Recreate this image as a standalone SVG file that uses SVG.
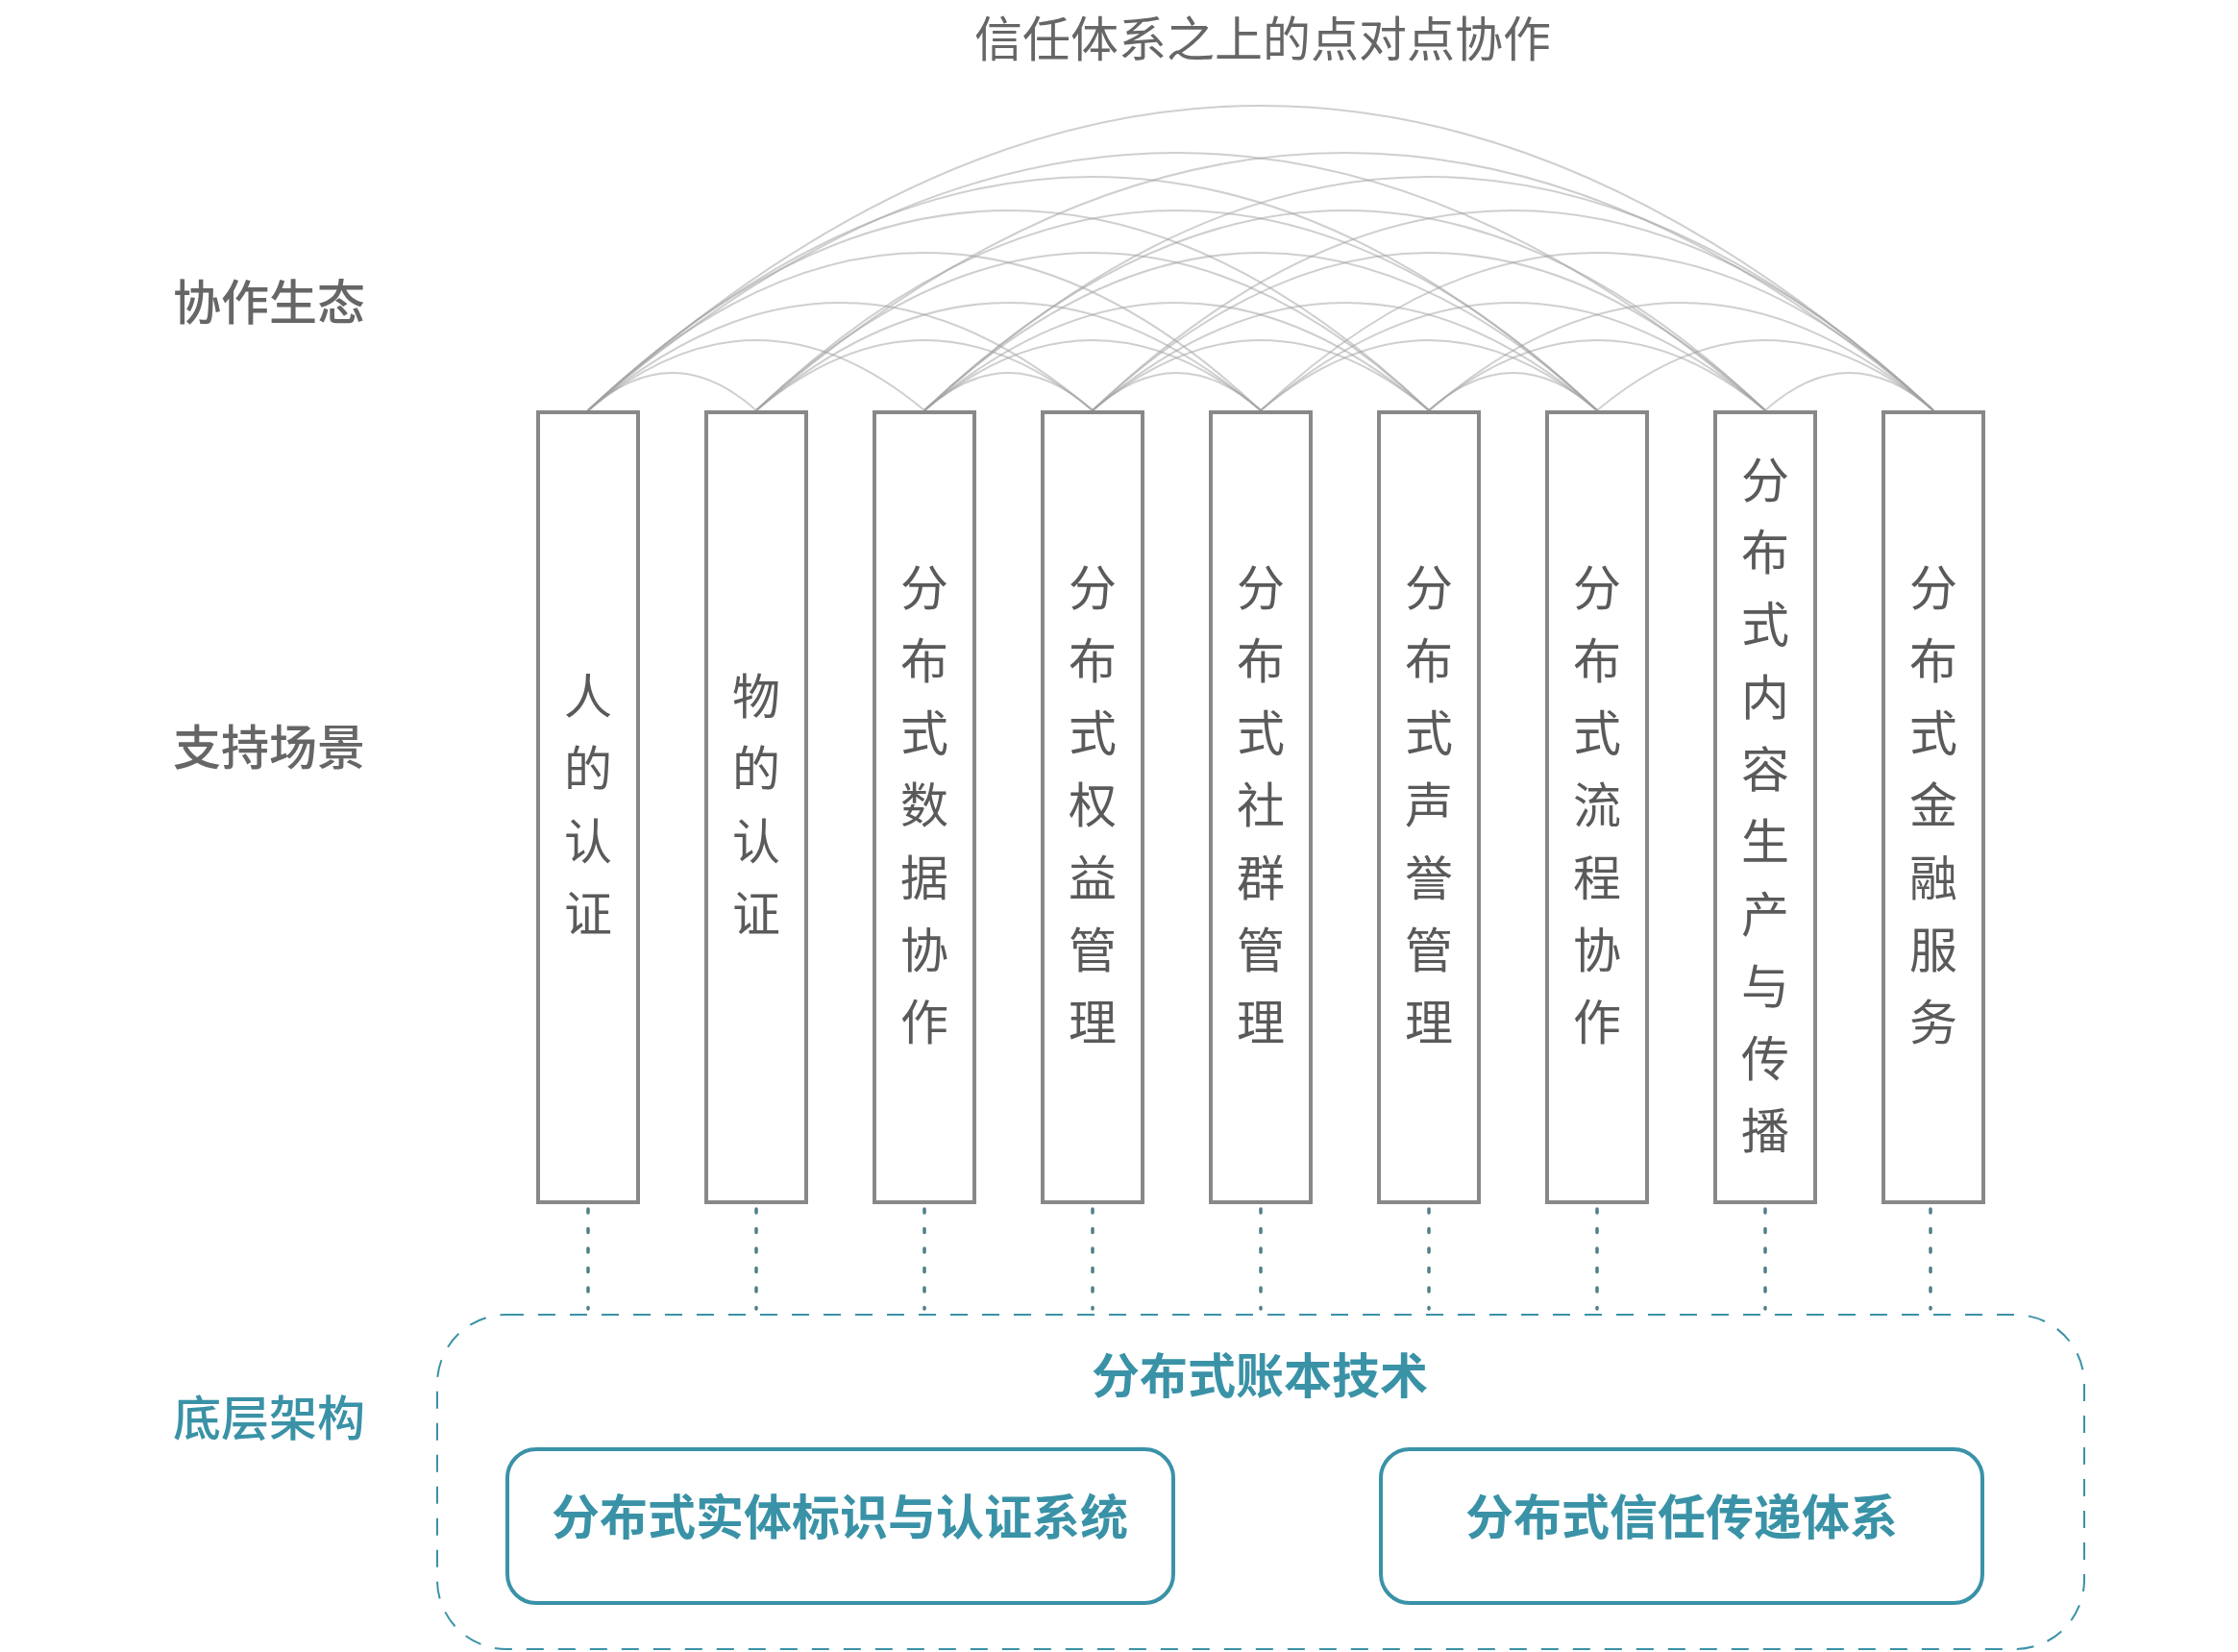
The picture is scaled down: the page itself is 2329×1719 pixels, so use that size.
<svg xmlns="http://www.w3.org/2000/svg" width="2329" height="1719" viewBox="0 0 2329 1719">
<style>
text{font-family:"Noto Sans CJK SC","Noto Sans",sans-serif}
.title{font-size:50px;fill:#666;font-weight:400}
.lab{font-size:50px;fill:#666;font-weight:500}
.labt{font-size:50px;fill:#3a92a7;font-weight:500}
.teal{font-size:50px;fill:#3a92a7;font-weight:700}
.bt{font-size:50px;fill:#5a5a5a;font-weight:400;text-anchor:middle}
.box{fill:#fff;stroke:#888;stroke-width:4}
.arc{fill:none;stroke:#a0a0a0;stroke-opacity:0.5;stroke-width:2}
.dot{stroke:#4f7f87;stroke-width:3.5;stroke-dasharray:4 16.5;stroke-linecap:round}
.inner{fill:#fff;stroke:#3a92a7;stroke-width:4}
</style>
<rect width="2329" height="1719" fill="#fff"/>
<text class="title" x="1314" y="59" text-anchor="middle">信任体系之上的点对点协作</text>
<g id="labels">
<text class="lab" x="180" y="333">协作生态</text>
<text class="lab" x="180" y="796">支持场景</text>
<text class="labt" x="180" y="1494">底层架构</text>
</g>
<g id="connectors">
<g id="arcs">
<path class="arc" d="M612 427Q699.5 349 787 427"/>
<path class="arc" d="M962 427Q1049.5 349 1137 427"/>
<path class="arc" d="M1137 427Q1224.5 349 1312 427"/>
<path class="arc" d="M1487 427Q1574.5 349 1662 427"/>
<path class="arc" d="M1837 427Q1924.5 349 2012 427"/>
<path class="arc" d="M612 427Q787 281 962 427"/>
<path class="arc" d="M787 427Q962 281 1137 427"/>
<path class="arc" d="M962 427Q1137 281 1312 427"/>
<path class="arc" d="M1137 427Q1312 281 1487 427"/>
<path class="arc" d="M1312 427Q1487 281 1662 427"/>
<path class="arc" d="M1487 427Q1662 281 1837 427"/>
<path class="arc" d="M1662 427Q1837 281 2012 427"/>
<path class="arc" d="M612 427Q874.5 203 1137 427"/>
<path class="arc" d="M787 427Q1049.5 203 1312 427"/>
<path class="arc" d="M962 427Q1224.5 203 1487 427"/>
<path class="arc" d="M1137 427Q1399.5 203 1662 427"/>
<path class="arc" d="M1312 427Q1574.5 203 1837 427"/>
<path class="arc" d="M1487 427Q1749.5 203 2012 427"/>
<path class="arc" d="M612 427Q962 99 1312 427"/>
<path class="arc" d="M787 427Q1137 99 1487 427"/>
<path class="arc" d="M962 427Q1312 99 1662 427"/>
<path class="arc" d="M1137 427Q1487 99 1837 427"/>
<path class="arc" d="M1312 427Q1662 99 2012 427"/>
<path class="arc" d="M612 427Q1049.5 11 1487 427"/>
<path class="arc" d="M787 427Q1224.5 11 1662 427"/>
<path class="arc" d="M962 427Q1399.5 11 1837 427"/>
<path class="arc" d="M1137 427Q1574.5 11 2012 427"/>
<path class="arc" d="M612 427Q1137 -59 1662 427"/>
<path class="arc" d="M962 427Q1487 -59 2012 427"/>
<path class="arc" d="M612 427Q1224.5 -109 1837 427"/>
<path class="arc" d="M787 427Q1399.5 -109 2012 427"/>
<path class="arc" d="M612 427Q1312 -207 2012 427"/>
</g>
<g id="dotted">
<line class="dot" x1="612" y1="1258" x2="612" y2="1362"/>
<line class="dot" x1="787" y1="1258" x2="787" y2="1362"/>
<line class="dot" x1="962" y1="1258" x2="962" y2="1362"/>
<line class="dot" x1="1137" y1="1258" x2="1137" y2="1362"/>
<line class="dot" x1="1312" y1="1258" x2="1312" y2="1362"/>
<line class="dot" x1="1487" y1="1258" x2="1487" y2="1362"/>
<line class="dot" x1="1662" y1="1258" x2="1662" y2="1362"/>
<line class="dot" x1="1837" y1="1258" x2="1837" y2="1362"/>
<line class="dot" x1="2009" y1="1258" x2="2009" y2="1362"/>
</g>
</g>
<g id="n1"><rect class="box" x="560" y="429" width="104" height="822"/>
<text class="bt" x="612"><tspan x="612" y="743">人</tspan><tspan x="612" y="818">的</tspan><tspan x="612" y="894">认</tspan><tspan x="612" y="969">证</tspan></text></g>
<g id="n2"><rect class="box" x="735" y="429" width="104" height="822"/>
<text class="bt" x="787"><tspan x="787" y="743">物</tspan><tspan x="787" y="818">的</tspan><tspan x="787" y="894">认</tspan><tspan x="787" y="969">证</tspan></text></g>
<g id="n3"><rect class="box" x="910" y="429" width="104" height="822"/>
<text class="bt" x="962"><tspan x="962" y="630">分</tspan><tspan x="962" y="706">布</tspan><tspan x="962" y="781">式</tspan><tspan x="962" y="856">数</tspan><tspan x="962" y="932">据</tspan><tspan x="962" y="1007">协</tspan><tspan x="962" y="1082">作</tspan></text></g>
<g id="n4"><rect class="box" x="1085" y="429" width="104" height="822"/>
<text class="bt" x="1137"><tspan x="1137" y="630">分</tspan><tspan x="1137" y="706">布</tspan><tspan x="1137" y="781">式</tspan><tspan x="1137" y="856">权</tspan><tspan x="1137" y="932">益</tspan><tspan x="1137" y="1007">管</tspan><tspan x="1137" y="1082">理</tspan></text></g>
<g id="n5"><rect class="box" x="1260" y="429" width="104" height="822"/>
<text class="bt" x="1312"><tspan x="1312" y="630">分</tspan><tspan x="1312" y="706">布</tspan><tspan x="1312" y="781">式</tspan><tspan x="1312" y="856">社</tspan><tspan x="1312" y="932">群</tspan><tspan x="1312" y="1007">管</tspan><tspan x="1312" y="1082">理</tspan></text></g>
<g id="n6"><rect class="box" x="1435" y="429" width="104" height="822"/>
<text class="bt" x="1487"><tspan x="1487" y="630">分</tspan><tspan x="1487" y="706">布</tspan><tspan x="1487" y="781">式</tspan><tspan x="1487" y="856">声</tspan><tspan x="1487" y="932">誉</tspan><tspan x="1487" y="1007">管</tspan><tspan x="1487" y="1082">理</tspan></text></g>
<g id="n7"><rect class="box" x="1610" y="429" width="104" height="822"/>
<text class="bt" x="1662"><tspan x="1662" y="630">分</tspan><tspan x="1662" y="706">布</tspan><tspan x="1662" y="781">式</tspan><tspan x="1662" y="856">流</tspan><tspan x="1662" y="932">程</tspan><tspan x="1662" y="1007">协</tspan><tspan x="1662" y="1082">作</tspan></text></g>
<g id="n8"><rect class="box" x="1785" y="429" width="104" height="822"/>
<text class="bt" x="1837"><tspan x="1837" y="518">分</tspan><tspan x="1837" y="593">布</tspan><tspan x="1837" y="668">式</tspan><tspan x="1837" y="744">内</tspan><tspan x="1837" y="819">容</tspan><tspan x="1837" y="894">生</tspan><tspan x="1837" y="970">产</tspan><tspan x="1837" y="1045">与</tspan><tspan x="1837" y="1120">传</tspan><tspan x="1837" y="1195">播</tspan></text></g>
<g id="n9"><rect class="box" x="1960" y="429" width="104" height="822"/>
<text class="bt" x="2012"><tspan x="2012" y="630">分</tspan><tspan x="2012" y="706">布</tspan><tspan x="2012" y="781">式</tspan><tspan x="2012" y="856">金</tspan><tspan x="2012" y="932">融</tspan><tspan x="2012" y="1007">服</tspan><tspan x="2012" y="1082">务</tspan></text></g>
<g id="ledger">
<rect x="455" y="1368" width="1714" height="348" rx="72" fill="none" stroke="#3a92a7" stroke-width="2" stroke-dasharray="18 15"/>
<text class="teal" x="1311" y="1450" text-anchor="middle">分布式账本技术</text>
</g>
<g id="identity">
<rect class="inner" x="528" y="1508" width="693" height="160" rx="30"/>
<text class="teal" x="874" y="1597" text-anchor="middle">分布式实体标识与认证系统</text>
</g>
<g id="trust">
<rect class="inner" x="1437" y="1508" width="626" height="160" rx="30"/>
<text class="teal" x="1750" y="1597" text-anchor="middle">分布式信任传递体系</text>
</g>
</svg>
